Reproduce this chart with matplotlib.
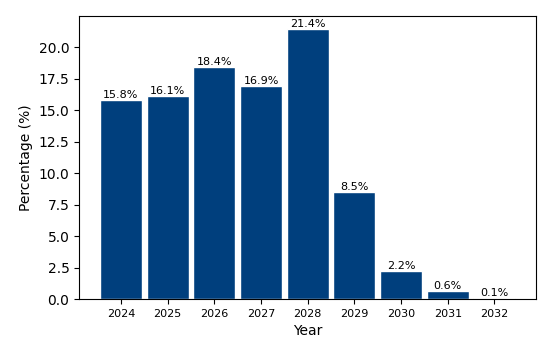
import matplotlib.pyplot as plt

years = ["2024", "2025", "2026", "2027", "2028", "2029", "2030", "2031", "2032"]
percentages = [15.8, 16.1, 18.4, 16.9, 21.4, 8.5, 2.2, 0.6, 0.1]

fig, ax = plt.subplots(figsize=(5.5, 3.56), dpi=100)
fig.subplots_adjust(left=0.144, right=0.975, bottom=0.16, top=0.955)

bars = ax.bar(years, percentages, width=0.9, color="#003f7d", edgecolor="white", linewidth=1)
ax.bar_label(bars, labels=[f"{v}%" for v in percentages], fontsize=8, padding=0)

ax.set_xlabel("Year", fontsize=10)
ax.set_ylabel("Percentage (%)", fontsize=10)
ax.tick_params(axis="x", labelsize=8)
ax.tick_params(axis="y", labelsize=10)

fig.savefig("out.png")
